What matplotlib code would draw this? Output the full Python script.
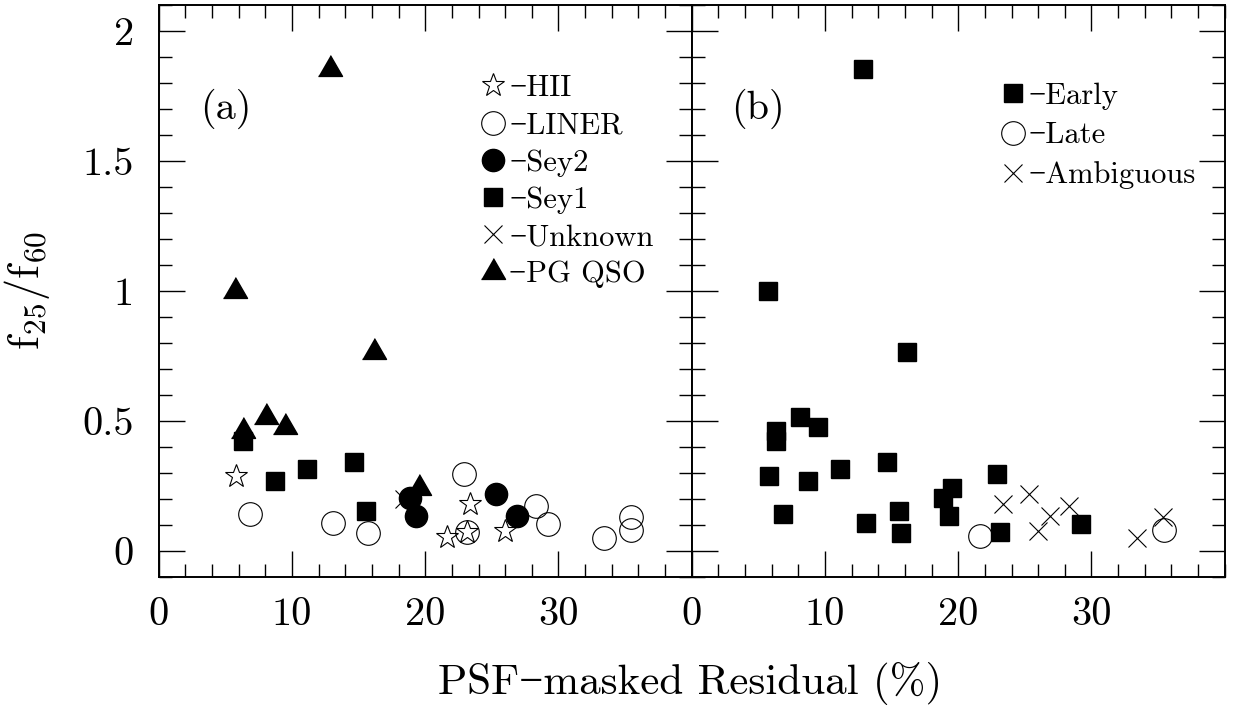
import matplotlib
matplotlib.use("Agg")
import matplotlib.pyplot as plt
from matplotlib.ticker import MultipleLocator

plt.rcParams["font.family"] = ["cmr10", "Liberation Serif"]
plt.rcParams["mathtext.fontset"] = "cm"
plt.rcParams["axes.unicode_minus"] = False
plt.rcParams["axes.linewidth"] = 1.4

# ---- panel (a): spectral class ----
hii_x = [5.79, 21.66, 23.14, 23.36, 25.96]
hii_y = [0.288, 0.054, 0.071, 0.179, 0.074]

liner_x = [6.88, 13.10, 15.68, 22.90, 23.10, 28.32, 29.20, 33.41, 35.45, 35.45]
liner_y = [0.143, 0.108, 0.067, 0.295, 0.071, 0.172, 0.104, 0.047, 0.130, 0.080]

unknown_x = [18.4]
unknown_y = [0.200]

sey2_x = [18.88, 19.28, 25.30, 26.90]
sey2_y = [0.204, 0.132, 0.220, 0.132]

sey1_x = [6.36, 8.76, 11.11, 14.62, 15.52]
sey1_y = [0.421, 0.270, 0.313, 0.341, 0.151]

qso_x = [5.72, 6.31, 8.09, 9.47, 12.89, 16.19, 19.55]
qso_y = [1.000, 0.460, 0.514, 0.476, 1.855, 0.765, 0.241]

# ---- panel (b): host morphology ----
early_x = [5.72, 12.89, 16.19, 6.31, 6.36, 8.09, 9.47, 5.79, 8.76, 11.11, 14.62,
           6.88, 13.10, 15.52, 15.68, 19.55, 18.88, 19.28, 22.90, 23.10, 29.20]
early_y = [1.000, 1.855, 0.765, 0.460, 0.421, 0.514, 0.476, 0.288, 0.270, 0.313, 0.341,
           0.143, 0.108, 0.151, 0.067, 0.241, 0.204, 0.132, 0.295, 0.071, 0.104]

late_x = [21.66, 35.45]
late_y = [0.055, 0.080]

ambig_x = [23.36, 25.30, 26.90, 28.32, 25.96, 33.41, 35.40]
ambig_y = [0.180, 0.220, 0.132, 0.172, 0.076, 0.047, 0.130]

xtick_vals = [0, 10, 20, 30]
ytick_vals = [0, 0.5, 1, 1.5, 2]
ytick_labels = ["0", "0.5", "1", "1.5", "2"]

# equilateral triangle, centred on its centroid
tri = [(-1, -0.577), (1, -0.577), (0, 1.155)]

fig = plt.figure(figsize=(12.33, 7.05), dpi=100)
ax1 = fig.add_axes([0.1287, 0.182, 0.4323, 0.811])
ax2 = fig.add_axes([0.561, 0.182, 0.4323, 0.811])

for ax in (ax1, ax2):
    ax.set_xlim(0, 40)
    ax.set_ylim(-0.1, 2.1)
    ax.set_xticks(xtick_vals)
    ax.set_yticks(ytick_vals)
    ax.xaxis.set_minor_locator(MultipleLocator(2))
    ax.yaxis.set_minor_locator(MultipleLocator(0.1))
    ax.tick_params(which="both", direction="in", top=True, right=True, width=1.0)
    ax.tick_params(which="major", length=19)
    ax.tick_params(which="minor", length=9.5)
    ax.tick_params(axis="x", labelsize=29, pad=15)
    ax.tick_params(axis="y", labelsize=29, pad=18)

ax1.set_yticklabels(ytick_labels)
ax2.set_yticklabels([])

open_kw = dict(ls="none", mfc="none", mec="black", mew=0.8)
fill_kw = dict(ls="none", color="black")

ax1.plot(hii_x, hii_y, marker="*", ms=17.3, label="\u2212HII", **open_kw)
ax1.plot(liner_x, liner_y, marker="o", ms=17, label="\u2212LINER", **open_kw)
ax1.plot(unknown_x, unknown_y, marker="x", ms=12.4, mew=0.8, ls="none",
         color="black", label="\u2212Unknown")
ax1.plot(sey2_x, sey2_y, marker="o", ms=16, label="\u2212Sey2", **fill_kw)
ax1.plot(sey1_x, sey1_y, marker="s", ms=13, label="\u2212Sey1", **fill_kw)
ax1.plot(qso_x, qso_y, marker=tri, ms=20, label="\u2212PG QSO", **fill_kw)

handles, labels = ax1.get_legend_handles_labels()
order = ["\u2212HII", "\u2212LINER", "\u2212Sey2", "\u2212Sey1",
         "\u2212Unknown", "\u2212PG QSO"]
hmap = dict(zip(labels, handles))
ax1.legend([hmap[k] for k in order], order, loc="upper left",
           bbox_to_anchor=(0.605, 0.878), frameon=False, numpoints=1,
           fontsize=22, handlelength=0.8, handletextpad=0.12,
           labelspacing=0.32, borderpad=0, borderaxespad=0)

ax2.plot(early_x, early_y, marker="s", ms=13, label="\u2212Early", **fill_kw)
ax2.plot(late_x, late_y, marker="o", ms=17, label="\u2212Late", **open_kw)
ax2.plot(ambig_x, ambig_y, marker="x", ms=12.4, mew=0.8, ls="none",
         color="black", label="\u2212Ambiguous")
ax2.legend(loc="upper left", bbox_to_anchor=(0.58, 0.865), frameon=False,
           numpoints=1, fontsize=22, handlelength=0.8, handletextpad=0.12,
           labelspacing=0.4, borderpad=0, borderaxespad=0)

ax1.text(5, 1.7, "(a)", fontsize=29, ha="center", va="center")
ax2.text(5, 1.7, "(b)", fontsize=29, ha="center", va="center")

ax1.set_ylabel(r"$\mathrm{f}_{25}/\mathrm{f}_{60}$", fontsize=32)
ax1.yaxis.set_label_coords(-0.2, 0.5)

fig.text(0.5596, 0.030, "PSF\u2212masked Residual (%)", fontsize=31,
         ha="center", va="center")

plt.savefig("out.png", dpi=100)
plt.close()
